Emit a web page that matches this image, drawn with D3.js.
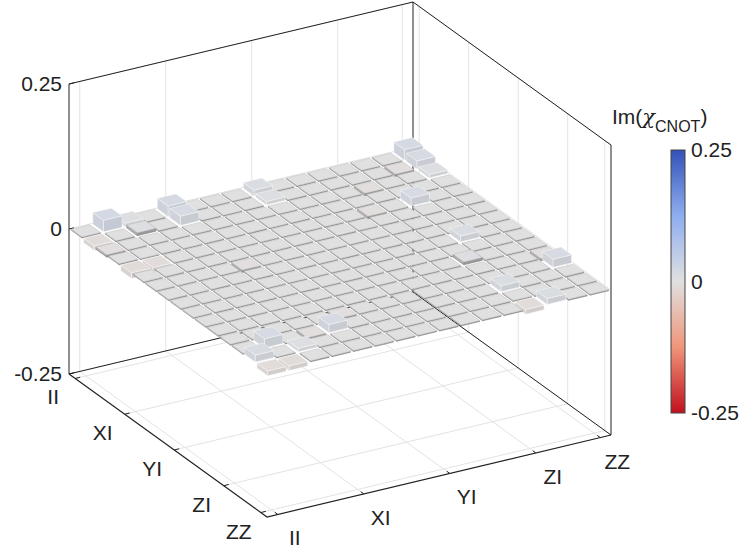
<!DOCTYPE html>
<html><head><meta charset="utf-8">
<script src="https://cdn.jsdelivr.net/npm/d3@7"></script>
<style>body{margin:0;background:#fff}text{font-family:"Liberation Sans",Arial,sans-serif;fill:#222}</style>
</head><body><svg id="c" width="754" height="548"></svg>
<script>
const labels = ["II","IX","IY","IZ","XI","XX","XY","XZ","YI","YX","YY","YZ","ZI","ZX","ZY","ZZ"];
const tickIdx = [0,4,8,12,15];
const zTicks = [-0.25,0,0.25];
const zTickLabels = ["-0.25","0","0.25"];
// Im(chi) values, rows x cols (read approximately)
const rows = [
 [0,0.02,0.006,0,0.018,0,0,0,0.01,0,0,0,0,0,0,0.018],
 [-0.008,0,0.005,0,0.016,0,0,0,0.006,0,0,0,0,0,-0.004,0.014],
 [-0.004,0,0,0,0,0,0,0,0,0,0,0,-0.004,0,0,0.006],
 [0,0,0,0,0,0,0,0,0,0,0,0,0,0,0,0],
 [-0.01,-0.008,0,0,0,0,0,0,0,0,0,-0.004,0,0.014,0,0],
 [0,0,0,0,0,0,0,0,0,0,0,0,0,0,0,0],
 [0,0,0,0,-0.004,0,0,0,0,0,0,0,0,0,0,0],
 [0,0,0,0,0,0,0,0,0,0,0,0,0,0,0,0],
 [0,0,0,0,0,0,0,0,0,0,0,0,0,0.01,0,0],
 [0,0,0,0,0,0,0,0,0,0,0,0,0,0,0,0],
 [0,0,0,0,0,0,0,0,0,0,0,0,0.005,0,0,0],
 [0,0,0,0,0,0,0,0,0,0,0,0,0,0,0,-0.004],
 [0,0,0,0,0,-0.004,0,0,0,0,0,0,0,0,0,0.014],
 [0,0.016,0,-0.004,0.014,0,0,0,0,0,0,0,0.01,0,0,0],
 [0.012,0,0.006,0,0,0,0,0,0,0,0,0,0,0,0,0],
 [-0.008,-0.008,0,0,0,0,0,0,0,0,0,0,-0.008,0.01,0,0]
];
const svg = d3.select("#c");
const ix = d3.scaleLinear([0,16],[0,198]), iy = d3.scaleLinear([0,16],[0,143]);
const jx = d3.scaleLinear([0,16],[0,344]), jy = d3.scaleLinear([0,16],[0,-82]);
const zs = d3.scaleLinear([-0.25,0.25],[0,-290]);
const X0=69, Y0=374;
const P=(i,j,z)=>[X0+ix(i)+jx(j), Y0+iy(i)+jy(j)+zs(z)];
const color = d3.scaleLinear([-0.25,-0.125,0,0.125,0.25],["#c0101e","#f0957a","#e0e0e0","#8eaef0","#3352b8"]).clamp(true);
const line=(pts,st,w)=>svg.append("path").attr("d",d3.line()(pts)).attr("fill","none").attr("stroke",st).attr("stroke-width",w);
const g="#e3e3e3";
tickIdx.forEach(t=>{
  line([P(t+0.5,0,-0.25),P(t+0.5,16,-0.25)],g,1);
  line([P(0,t+0.5,-0.25),P(16,t+0.5,-0.25)],g,1);
  line([P(0,t+0.5,-0.25),P(0,t+0.5,0.25)],g,1);
  line([P(t+0.5,16,-0.25),P(t+0.5,16,0.25)],g,1);
});
zTicks.forEach(z=>line([P(0,0,z),P(0,16,z),P(16,16,z)],g,1));
const k="#222";
line([P(0,0,-0.25),P(0,0,0.25),P(0,16,0.25),P(16,16,0.25),P(16,16,-0.25)],k,1);
line([P(0,0,-0.25),P(0,16,-0.25),P(16,16,-0.25)],k,1);
line([P(0,16,-0.25),P(0,16,0.25)],k,1);
line([P(0,0,-0.25),P(16,0,-0.25),P(16,16,-0.25)],k,1.2);
tickIdx.forEach(t=>{
  const a=P(t+0.5,0,-0.25); line([a,[a[0]+5,a[1]-1.2]],k,1);
  const b=P(16,t+0.5,-0.25); line([b,[b[0]-3,b[1]-2.2]],k,1);
  svg.append("text").attr("x",a[0]-22).attr("y",a[1]+26).attr("font-size",21).attr("text-anchor","middle").text(labels[t]);
  svg.append("text").attr("x",b[0]+17).attr("y",b[1]+31).attr("font-size",21).attr("text-anchor","middle").text(labels[t]);
});
zTicks.forEach((z,n)=>{
  const p=P(0,0,z); line([p,[p[0]+5,p[1]-1.2]],k,1);
  svg.append("text").attr("x",p[0]-7).attr("y",p[1]+7).attr("font-size",21).attr("text-anchor","end").text(zTickLabels[n]);
});
const cells=[];
rows.forEach((r,i)=>r.forEach((v,j)=>cells.push({i,j,v})));
cells.sort((a,b)=>(a.i-a.j)-(b.i-b.j));
const f=0.07, minH=0.0018;
const poly=(pts,fill,st)=>svg.append("polygon").attr("points",pts.map(p=>p.join(",")).join(" ")).attr("fill",fill).attr("stroke",st).attr("stroke-width",0.5).attr("stroke-linejoin","round");
cells.forEach(c=>{
  let top=Math.max(c.v,0), bot=Math.min(c.v,0);
  if(top-bot<minH){top=0;bot=-minH;}
  const i0=c.i+f,i1=c.i+1-f,j0=c.j+f,j1=c.j+1-f;
  const col=d3.color(color(c.v));
  const raised=Math.abs(c.v)>0.005;
  const st=raised?"#f6f6f6":"#7a7a7a";
  poly([P(i1,j0,bot),P(i1,j1,bot),P(i1,j1,top),P(i1,j0,top)],raised?col.darker(0.2):"#9a9a9a",st);
  poly([P(i0,j0,bot),P(i1,j0,bot),P(i1,j0,top),P(i0,j0,top)],raised?col.darker(0.1):"#b0b0b0",st);
  poly([P(i0,j0,top),P(i0,j1,top),P(i1,j1,top),P(i1,j0,top)],col,raised?st:"#bdbdbd");
});
const cb=d3.scaleLinear([-0.25,0.25],[413,150]);
const defs=svg.append("defs").append("linearGradient").attr("id","gr").attr("x1",0).attr("x2",0).attr("y1",1).attr("y2",0);
d3.range(0,1.001,0.05).forEach(t=>defs.append("stop").attr("offset",t).attr("stop-color",color(-0.25+0.5*t)));
svg.append("rect").attr("x",671).attr("y",cb(0.25)).attr("width",14).attr("height",cb(-0.25)-cb(0.25)).attr("fill","url(#gr)").attr("stroke","#444").attr("stroke-width",1);
zTicks.forEach((z,n)=>svg.append("text").attr("x",691).attr("y",cb(z)+7).attr("font-size",21).text(zTickLabels[n]));
const t=svg.append("text").attr("x",612).attr("y",124).attr("font-size",21);
t.append("tspan").text("Im(");
t.append("tspan").attr("font-family","DejaVu Serif").attr("font-style","italic").text("χ");
t.append("tspan").attr("font-size",16).attr("dy",8).text("CNOT");
t.append("tspan").attr("dy",-8).text(")");
</script></body></html>
